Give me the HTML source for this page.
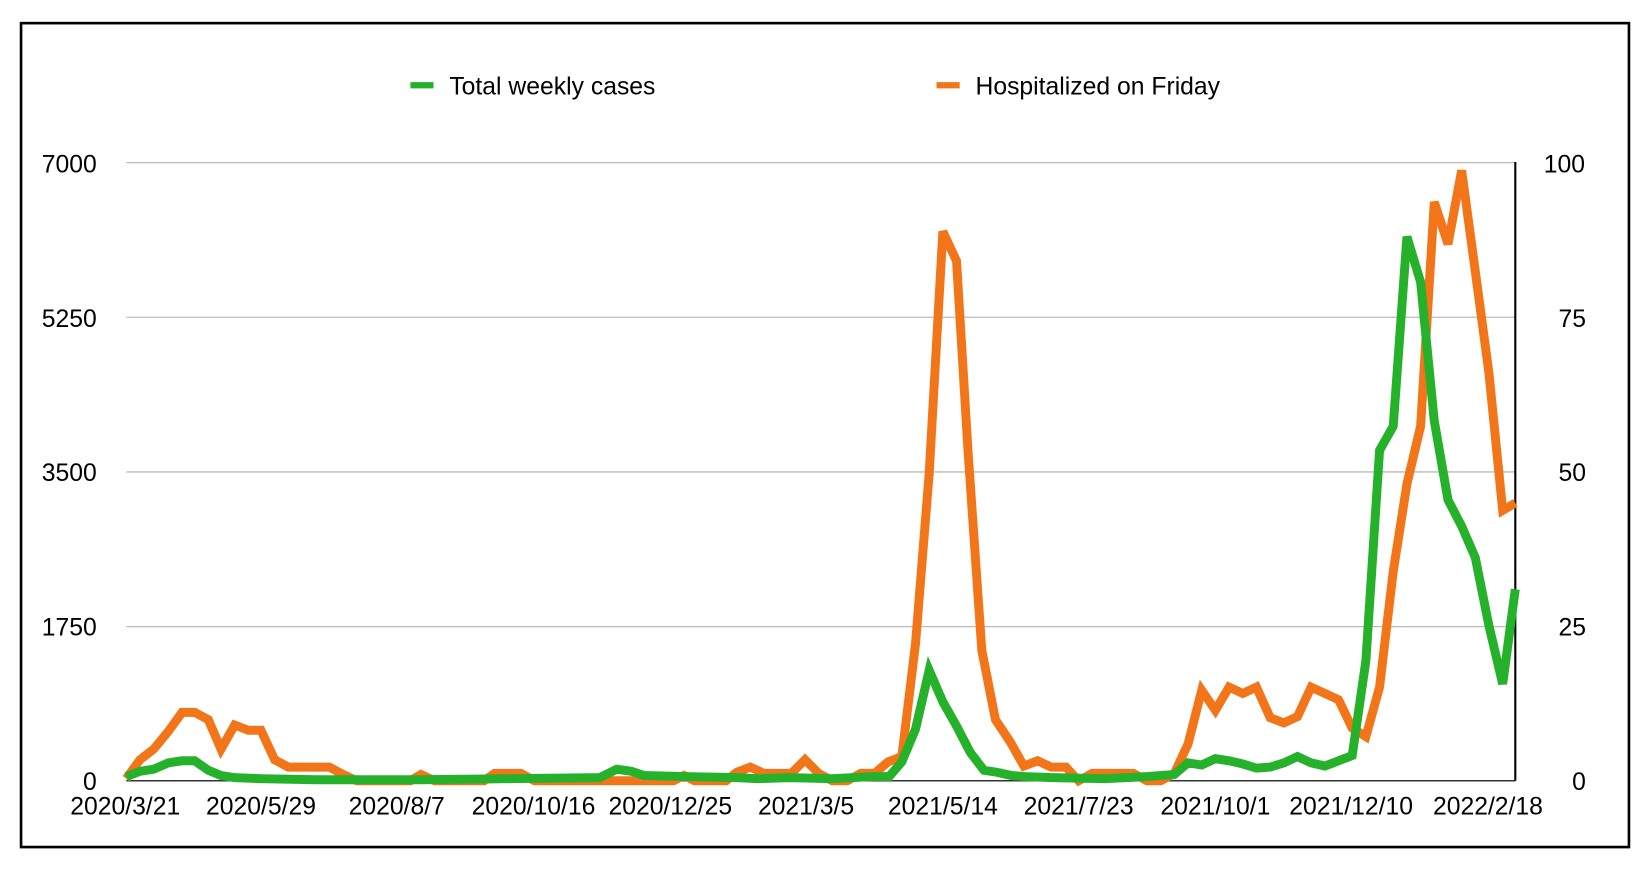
<!DOCTYPE html>
<html><head><meta charset="utf-8"><style>body{margin:0;background:#fff}svg{display:block}text{font-family:"Liberation Sans",Arial,sans-serif;font-size:23.5px;fill:#000}</style></head><body>
<svg width="1650" height="872" viewBox="0 0 1568 828.7" preserveAspectRatio="none">
<rect x="20" y="22" width="1528" height="783" fill="#fff" stroke="#000" stroke-width="2.5"/>
<g stroke="#bbb" stroke-width="1.2">
<line x1="120" y1="154.5" x2="1440" y2="154.5"/><line x1="120" y1="301.5" x2="1440" y2="301.5"/><line x1="120" y1="448.5" x2="1440" y2="448.5"/><line x1="120" y1="595.5" x2="1440" y2="595.5"/></g>
<line x1="120" y1="742" x2="1440" y2="742" stroke="#333" stroke-width="1.5"/>
<line x1="1440" y1="154" x2="1440" y2="742" stroke="#000" stroke-width="2"/>
<g text-anchor="end"><text x="92" y="164">7000</text><text x="92" y="311">5250</text><text x="92" y="457">3500</text><text x="92" y="604">1750</text><text x="92" y="751">0</text></g>
<g text-anchor="start"><text x="1467" y="164">100</text><text x="1481" y="311">75</text><text x="1481" y="457">50</text><text x="1481" y="604">25</text><text x="1494" y="751">0</text></g>
<g text-anchor="middle"><text x="119" y="774">2020/3/21</text><text x="248" y="774">2020/5/29</text><text x="377" y="774">2020/8/7</text><text x="507" y="774">2020/10/16</text><text x="637" y="774">2020/12/25</text><text x="766" y="774">2021/3/5</text><text x="896" y="774">2021/5/14</text><text x="1025" y="774">2021/7/23</text><text x="1155" y="774">2021/10/1</text><text x="1284" y="774">2021/12/10</text><text x="1414" y="774">2022/2/18</text></g>
<line x1="390" y1="81" x2="412" y2="81" stroke="#25b22a" stroke-width="6"/><text x="427" y="90">Total weekly cases</text>
<line x1="890" y1="81" x2="912" y2="81" stroke="#f27619" stroke-width="6"/><text x="927" y="90">Hospitalized on Friday</text>
<polyline fill="none" stroke="#f27619" stroke-width="8.5" stroke-linejoin="miter" points="120,740 133,722 146,712 160,695 173,677 185,677 198,684 210,712 223,689 236,694 248,694 261,722 274,729 287,729 300,729 313,729 326,736 339,742 390,742 400,736 413,742 460,742 470,735 495,735 508,742 640,742 650,737 660,742 690,742 700,734 713,729 726,735 752,735 765,722 778,735 791,742 805,742 818,735 831,735 844,724 857,719 870,612 883,450 896,220 909,248 920,430 933,618 946,684 960,705 973,728 986,723 999,729 1013,729 1025,742 1038,735 1077,735 1090,742 1103,742 1116,735 1129,707 1142,656 1155,675 1168,653 1181,659 1194,653 1207,682 1220,687 1233,681 1246,653 1259,659 1272,665 1285,692 1298,700 1311,653 1324,543 1337,460 1350,405 1363,192 1376,232 1389,162 1402,258 1415,355 1428,485 1440,478"/>
<polyline fill="none" stroke="#25b22a" stroke-width="8.5" stroke-linejoin="miter" points="120,738 133,733 146,731 160,725 173,723 185,723 198,732 210,737 223,739 248,740 300,741 400,741 570,739 586,731 600,733 612,737 650,738 700,739 720,740 750,739 790,740 830,738 845,738 857,724 870,693 883,637 896,667 909,690 922,715 935,732 948,734 961,737 974,738 1000,739 1050,740 1090,738 1116,736 1129,725 1142,727 1155,721 1168,723 1181,726 1194,730 1207,729 1220,725 1233,719 1246,725 1259,728 1272,723 1285,718 1298,628 1311,428 1324,405 1337,225 1350,268 1363,400 1376,475 1389,500 1402,530 1415,595 1428,650 1440,560"/>
</svg>
</body></html>
